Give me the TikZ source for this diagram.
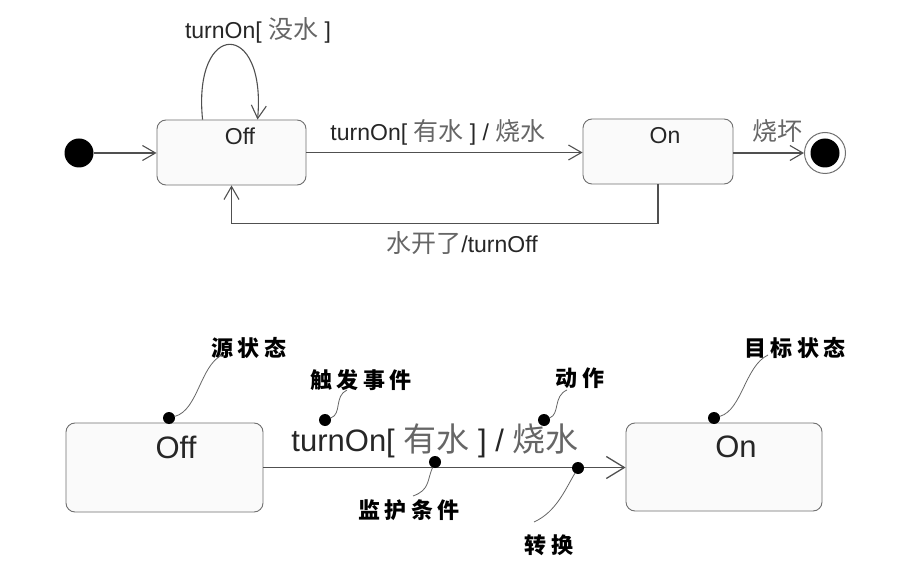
\documentclass[tikz,border=0pt]{standalone}
\usepackage{fontspec}
\setmainfont{Liberation Sans}
\newfontfamily\cjk{Noto Sans CJK SC}
\newfontfamily\anno{Noto Sans CJK SC}[LetterSpace=20]
\usetikzlibrary{arrows.meta,calc}
\definecolor{linec}{HTML}{505050}
\definecolor{boxc}{HTML}{707070}
\definecolor{cjkc}{HTML}{666666}
\newcommand{\zh}[1]{{\cjk\color{cjkc}\fontsize{25}{26}\selectfont #1}}
\newcommand{\zhbig}[1]{{\cjk\color{cjkc}\fontsize{33}{34}\selectfont #1}}
\begin{document}
\begin{tikzpicture}[x=1pt,y=-1pt,
  statebox/.style={draw=boxc, fill=black!2, rounded corners=9pt, line width=0.9pt, inner sep=0},
  trans/.style={draw=linec, line width=1.1pt, -{Straight Barb[length=13pt,width=15pt,line width=1.1pt]}},
  transbig/.style={draw=linec, line width=1.3pt, -{Straight Barb[length=18pt,width=22pt,line width=1.3pt]}},
  lbl/.style={font=\fontsize{23}{26}\selectfont, text=black!85, inner sep=0},
  lblbig/.style={font=\fontsize{31}{34}\selectfont, text=black!85, inner sep=0},
  ann/.style={font=\anno\bfseries\fontsize{22}{26}\selectfont, inner sep=0},
  dotm/.style={circle, fill=black, inner sep=0, minimum size=12pt},
  lead/.style={draw=black!60, line width=0.8pt}]
\useasboundingbox[fill=white] (0,0) rectangle (902,561);
% ---------- top diagram ----------
\node[statebox, minimum width=149pt, minimum height=65pt] (off) at (231.5,152.5) {};
\node[lbl] (offt) at (240,136) {Off};
\node[statebox, minimum width=150pt, minimum height=65pt] (on) at (658,151.5) {};
\node[lbl] (ont) at (665,136) {On};
\node[circle, fill=black, minimum size=29pt, inner sep=0] (init) at (79,153) {};
\node[circle, draw=boxc, fill=white, line width=1pt, minimum size=41pt, inner sep=0] (fin) at (825,153) {};
\node[circle, fill=black, minimum size=29pt, inner sep=0] (finin) at (825,153) {};
\draw[trans] (init) -- (init -| off.west);
\draw[trans] ($(off.north west)+(46,0)$) .. controls +(-10,-100) and +(9,-100) .. ($(off.north west)+(101,0)$);
\node[lbl] (l1) at (258,30) {turnOn[ \zh{没水} ]};
\draw[trans] (off.east) -- (off.east -| on.west);
\node[lbl] (l2) at (438,132) {turnOn[ \zh{有水} ] / \zh{烧水}};
\draw[trans] (fin.west -| on.east) -- (fin.west);
\node[lbl] (l3) at (777,131) {\zh{烧坏}};
\draw[trans] (on.south) -- ++(0,39) -| (off.south);
\node[lbl] (l4) at (462,243) {\zh{水开了}/turnOff};
% ---------- bottom diagram ----------
\node[statebox, minimum width=197pt, minimum height=89pt] (off2) at (164.5,467.5) {};
\node[lblbig] (off2t) at (176,447) {Off};
\node[statebox, minimum width=196pt, minimum height=88pt] (on2) at (724,467) {};
\node[lblbig] (on2t) at (736,447) {On};
\draw[transbig] (off2.east) -- (off2.east -| on2.west);
\node[lblbig] (l5) at (435,441) {turnOn[ \zhbig{有水} ] / \zhbig{烧水}};
% annotations
\node[ann] (a1) at (249,348) {源状态};
\node[dotm] (d1) at (169,418) {};
\draw[lead] (d1) .. controls (198,410) and (200,366) .. (222,355);
\node[ann] (a2) at (361,380) {触发事件};
\node[dotm] (d2) at (325,420) {};
\draw[lead] (d2) .. controls (342,414) and (334,396) .. (347,390);
\node[ann] (a3) at (409,510) {监护条件};
\node[dotm] (d3) at (435,462) {};
\draw[lead] (d3) .. controls (427,480) and (430,490) .. (413,496);
\node[ann] (a4) at (580,378) {动作};
\node[dotm] (d4) at (544,420) {};
\draw[lead] (d4) .. controls (560,414) and (553,396) .. (567,390);
\node[ann] (a5) at (549,545) {转换};
\node[dotm] (d5) at (578,468) {};
\draw[lead] (d5) .. controls (565,490) and (556,512) .. (534,522);
\node[ann] (a6) at (795,348) {目标状态};
\node[dotm] (d6) at (714,418) {};
\draw[lead] (d6) .. controls (742,410) and (745,366) .. (768,355);
\end{tikzpicture}
\end{document}
